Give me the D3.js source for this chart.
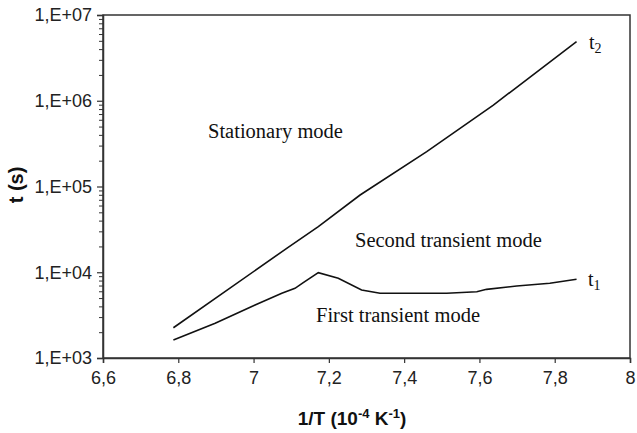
<!DOCTYPE html>
<html>
<head>
<meta charset="utf-8">
<script src="https://cdn.jsdelivr.net/npm/d3@7/dist/d3.min.js"></script>
<style>
  html, body { margin: 0; padding: 0; background: #fff; }
  svg { display: block; }
</style>
</head>
<body>
<svg id="chart" width="637" height="433"></svg>
<script>
// ---- data ----
const t2X = [6.787, 7.088, 7.172, 7.283, 7.460, 7.637, 7.858];
const t2Y = [2254, 19000, 34000, 79600, 254700, 891000, 4890000];

const t1X = [6.787, 6.898, 7.004, 7.075, 7.110, 7.132, 7.172, 7.225, 7.287, 7.336, 7.513, 7.593, 7.619, 7.699, 7.787, 7.858];
const t1Y = [1622, 2540, 4150, 5690, 6500, 7560, 9880, 8490, 6210, 5690, 5690, 5930, 6320, 6910, 7430, 8280];

const xTicks = [6.6, 6.8, 7.0, 7.2, 7.4, 7.6, 7.8, 8.0];
const xTickLabels = ["6,6", "6,8", "7", "7,2", "7,4", "7,6", "7,8", "8"];
const yTicks = [1e3, 1e4, 1e5, 1e6, 1e7];
const yTickLabels = ["1,E+03", "1,E+04", "1,E+05", "1,E+06", "1,E+07"];

const regionLabels = ["Stationary mode", "Second transient mode", "First transient mode"];

// ---- layout ----
const L = 103, R = 630, T = 15, B = 358;
const svg = d3.select("#chart");

const x = d3.scaleLinear().domain([6.6, 8.0]).range([L, R]);
const y = d3.scaleLog().domain([1e3, 1e7]).range([B, T]);

const axisColor = "#333";

// box (top and right borders)
svg.append("rect")
  .attr("x", L).attr("y", T).attr("width", R - L).attr("height", B - T)
  .attr("fill", "none").attr("stroke", axisColor).attr("stroke-width", 1.5);

// x axis
const xAxis = d3.axisBottom(x).tickValues(xTicks)
  .tickFormat((d, i) => xTickLabels[i]).tickSize(5).tickPadding(8);
const gx = svg.append("g").attr("transform", `translate(0,${B})`).call(xAxis);
gx.select(".domain").attr("stroke", axisColor).attr("stroke-width", 1.5);
gx.selectAll(".tick line").attr("stroke", axisColor).attr("stroke-width", 1.2);
gx.selectAll(".tick text").attr("font-family", "Liberation Sans, Arial, sans-serif")
  .attr("font-size", 18).attr("fill", "#222");

// y axis major
const yAxis = d3.axisLeft(y).tickValues(yTicks)
  .tickFormat((d, i) => yTickLabels[i]).tickSize(6).tickPadding(5);
const gy = svg.append("g").attr("transform", `translate(${L},0)`).call(yAxis);
gy.select(".domain").attr("stroke", axisColor).attr("stroke-width", 1.5);
gy.selectAll(".tick line").attr("stroke", axisColor).attr("stroke-width", 1.2);
gy.selectAll(".tick text").attr("font-family", "Liberation Sans, Arial, sans-serif")
  .attr("font-size", 18).attr("fill", "#222");

// y minor ticks
const minor = [];
for (let e = 3; e < 7; e++) for (let m = 2; m <= 9; m++) minor.push(m * Math.pow(10, e));
const yMinor = d3.axisLeft(y).tickValues(minor).tickFormat("").tickSize(4);
const gym = svg.append("g").attr("transform", `translate(${L},0)`).call(yMinor);
gym.select(".domain").remove();
gym.selectAll(".tick line").attr("stroke", axisColor).attr("stroke-width", 1);

// lines
const line = d3.line().x(d => x(d[0])).y(d => y(d[1]));
svg.append("path").datum(t2X.map((v, i) => [v, t2Y[i]]))
  .attr("d", line).attr("fill", "none").attr("stroke", "#111").attr("stroke-width", 1.6);
svg.append("path").datum(t1X.map((v, i) => [v, t1Y[i]]))
  .attr("d", line).attr("fill", "none").attr("stroke", "#111").attr("stroke-width", 1.6);

// region labels (serif)
const serif = "Liberation Serif, Times New Roman, serif";
const regionPos = [[208, 138], [355, 247], [316, 322]];
regionLabels.forEach((t, i) => {
  svg.append("text").attr("x", regionPos[i][0]).attr("y", regionPos[i][1])
    .attr("font-family", serif).attr("font-size", 20.5).attr("fill", "#111").text(t);
});

// series labels t2, t1
function seriesLabel(px, py, sub) {
  const tx = svg.append("text").attr("x", px).attr("y", py)
    .attr("font-family", serif).attr("font-size", 20).attr("fill", "#111");
  tx.append("tspan").text("t");
  tx.append("tspan").attr("font-size", 14).attr("dy", 4).text(sub);
}
seriesLabel(589, 49, "2");
seriesLabel(588, 286, "1");

// axis titles
const xt = svg.append("text").attr("x", 352).attr("y", 425).attr("text-anchor", "middle")
  .attr("font-family", "Liberation Sans, Arial, sans-serif").attr("font-weight", "bold")
  .attr("font-size", 19).attr("fill", "#111");
xt.append("tspan").text("1/T (10");
xt.append("tspan").attr("font-size", 13).attr("dy", -7).text("-4");
xt.append("tspan").attr("dy", 7).text(" K");
xt.append("tspan").attr("font-size", 13).attr("dy", -7).text("-1");
xt.append("tspan").attr("dy", 7).text(")");

svg.append("text").attr("transform", "translate(23,185) rotate(-90)")
  .attr("text-anchor", "middle")
  .attr("font-family", "Liberation Sans, Arial, sans-serif").attr("font-weight", "bold")
  .attr("font-size", 20).attr("fill", "#111").text("t (s)");
</script>
</body>
</html>
